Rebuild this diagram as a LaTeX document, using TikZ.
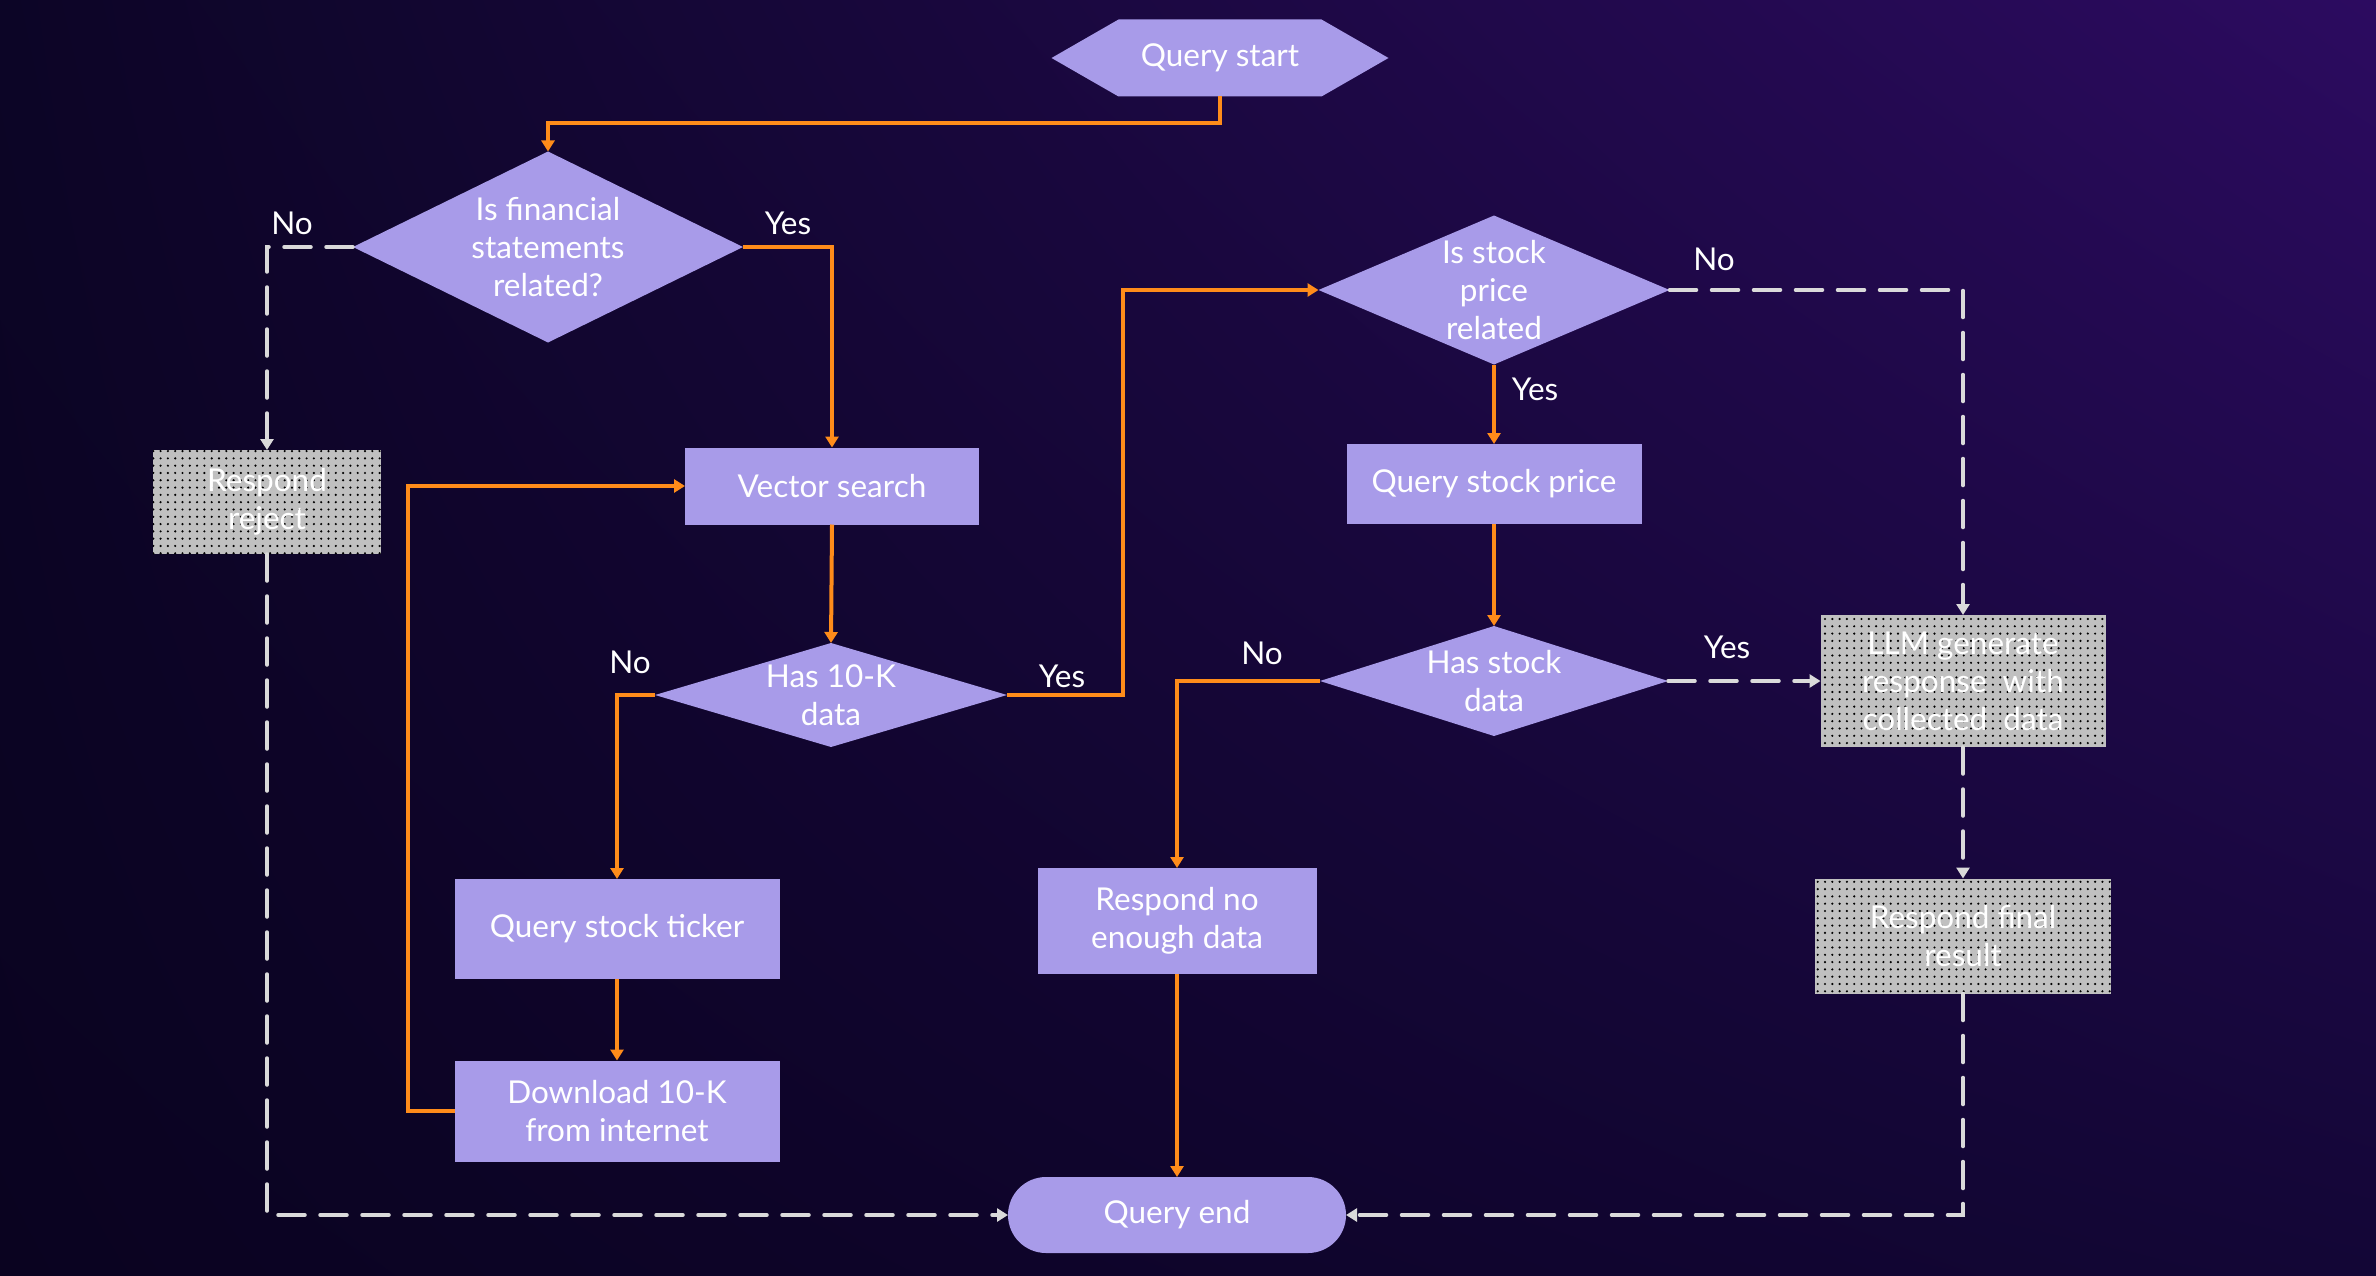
\documentclass[tikz,border=0pt]{standalone}
\usepackage{fontspec}
\setmainfont{Lato}
\usetikzlibrary{arrows.meta,patterns.meta,calc,shadings}
\definecolor{lav}{RGB}{168,155,233}
\definecolor{orng}{RGB}{255,140,26}
\definecolor{dgray}{RGB}{218,218,218}
\definecolor{boxgray}{RGB}{192,192,192}
\definecolor{bgUL}{RGB}{12,5,38}
\definecolor{bgLL}{RGB}{10,3,32}
\definecolor{bgUR}{RGB}{44,11,96}
\definecolor{bgLR}{RGB}{19,6,54}
\tikzset{
  txt/.style={text=white, font=\fontsize{31.5}{38}\selectfont, align=center, inner sep=0pt, outer sep=0pt},
  proc/.style={txt, rectangle, fill=lav, minimum width=#1},
  grbox/.style={txt, rectangle, fill=boxgray, minimum width=#1,
    postaction={pattern={Dots[distance=7.3pt,radius=1.2pt]}, pattern color=black}},
  dec/.style={txt, rectangle, minimum width=#1,
    path picture={\fill[lav] (path picture bounding box.north) -- (path picture bounding box.east)
      -- (path picture bounding box.south) -- (path picture bounding box.west) -- cycle;}},
  hexa/.style={txt, rectangle, minimum width=#1,
    path picture={\fill[lav] (path picture bounding box.west)
      -- ([xshift=67pt]path picture bounding box.north west) -- ([xshift=-67pt]path picture bounding box.north east)
      -- (path picture bounding box.east)
      -- ([xshift=-67pt]path picture bounding box.south east) -- ([xshift=67pt]path picture bounding box.south west) -- cycle;}},
  oarrow/.style={draw=orng, line width=4pt, -{Triangle[width=13pt,length=11pt]}},
  garrow/.style={draw=dgray, line width=3.5pt, line cap=round, dash pattern=on 27pt off 15pt, -{Triangle[width=13pt,length=11pt]}},
  lbl/.style={text=white, font=\fontsize{31.5}{38}\selectfont, inner sep=0pt},
}
\begin{document}
\begin{tikzpicture}[x=1pt,y=-1pt]
\useasboundingbox (0,0) rectangle (2376,1276);
\shade[upper left=bgUL, lower left=bgLL, upper right=bgUR, lower right=bgLR] (0,0) rectangle (2376,1276);

% nodes
\node[hexa=337, minimum height=77] (qs) at (1220,58) {Query start};
\node[dec=390, minimum height=191] (d1) at (548,247) {Is financial\\statements\\related?};
\node[grbox=228, minimum height=104] (rr) at (267,502) {Respond\\reject};
\node[proc=294, minimum height=77] (vs) at (832,486) {Vector search};
\node[dec=352, minimum height=104] (h10) at (831,695) {Has 10-K\\data};
\node[proc=325, minimum height=100] (qst) at (617,929) {Query stock ticker};
\node[proc=325, minimum height=101] (dl) at (617,1111) {Download 10-K\\from internet};
\node[dec=351, minimum height=149] (isp) at (1494,290) {Is stock\\price\\related};
\node[proc=295, minimum height=80] (qsp) at (1494,484) {Query stock price};
\node[dec=348, minimum height=110] (hsd) at (1494,681) {Has stock\\data};
\node[proc=279, minimum height=106] (rne) at (1177,921) {Respond no\\enough data};
\node[txt, rectangle, fill=lav, rounded corners=38pt, minimum width=338, minimum height=76] (qe) at (1177,1215) {Query end};
\node[grbox=285, minimum height=132] (llm) at (1963,681) {LLM generate\\response~~with\\collected~~data};
\node[grbox=296, minimum height=115] (rfr) at (1963,936) {Respond final\\result};

% junction coordinates
\coordinate (j1) at (548,123);
\coordinate (j2) at (408,1111);
\coordinate (j3) at (1123,695);

% connectors
\draw[oarrow] (qs.south) |- (j1) -- (d1.north);
\draw[garrow] (d1.west) -| (rr.north);
\draw[oarrow] (d1.east) -| (vs.north);
\draw[oarrow] (vs.south) -- (h10.north);
\draw[oarrow] (h10.west) -| (qst.north);
\draw[oarrow] (qst.south) -- (dl.north);
\draw[oarrow] (dl.west) -- (j2) |- (vs.west);
\draw[oarrow] (h10.east) -- (j3) |- (isp.west);
\draw[garrow] (isp.east) -| (llm.north);
\draw[oarrow] (isp.south) -- (qsp.north);
\draw[oarrow] (qsp.south) -- (hsd.north);
\draw[oarrow] (hsd.west) -| (rne.north);
\draw[garrow] (hsd.east) -- (llm.west);
\draw[garrow] (llm.south) -- (rfr.north);
\draw[oarrow] (rne.south) -- (qe.north);
\draw[garrow] (rfr.south) |- (qe.east);
\draw[garrow] (rr.south) |- (qe.west);

% labels
\node[lbl] (l1) at (292,223) {No};
\node[lbl] (l2) at (788,223) {Yes};
\node[lbl] (l3) at (630,662) {No};
\node[lbl] (l4) at (1062,676) {Yes};
\node[lbl] (l5) at (1714,259) {No};
\node[lbl] (l6) at (1535,389) {Yes};
\node[lbl] (l7) at (1262,653) {No};
\node[lbl] (l8) at (1727,647) {Yes};
\end{tikzpicture}
\end{document}
